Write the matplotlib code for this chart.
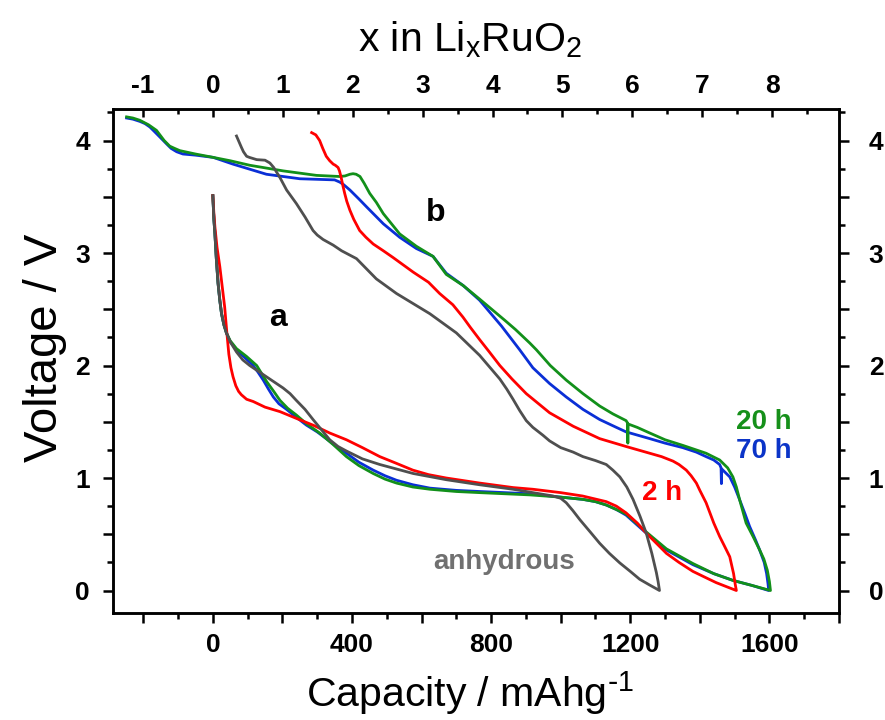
import matplotlib
matplotlib.use("Agg")
import matplotlib.pyplot as plt
from matplotlib.ticker import MultipleLocator, FuncFormatter

plt.rcParams['font.family'] = ['Liberation Sans', 'DejaVu Sans']
plt.rcParams['mathtext.default'] = 'regular'

# ---- 2 h sample -------------------------------------------------------
cap_2h_dis = [0, 3, 6, 12, 20, 27, 34, 40, 46, 52, 58, 66, 74, 82, 97, 116, 150,
              193, 240, 288, 336, 384, 430, 480, 528, 575, 620, 671, 767, 863, 920,
              1000, 1063, 1131, 1160, 1188, 1220, 1246, 1275, 1304, 1340, 1380, 1420,
              1447, 1480, 1505]
v_2h_dis = [3.51, 3.35, 3.23, 3.05, 2.88, 2.70, 2.52, 2.30, 2.10, 1.98, 1.90, 1.82,
            1.77, 1.74, 1.70, 1.68, 1.63, 1.59, 1.53, 1.47, 1.40, 1.34, 1.27, 1.19,
            1.13, 1.07, 1.03, 1.00, 0.955, 0.915, 0.90, 0.87, 0.84, 0.79, 0.75, 0.69,
            0.60, 0.51, 0.42, 0.33, 0.25, 0.17, 0.11, 0.07, 0.03, 0.00]
cap_2h_chg = [1505, 1502, 1497, 1486, 1470, 1457, 1440, 1418, 1400, 1390, 1375, 1361,
              1340, 1323, 1290, 1256, 1188, 1112, 1036, 968, 901, 860, 825, 795, 767,
              740, 719, 690, 652, 620, 576, 518, 490, 461, 440, 422, 405, 394, 385,
              379, 373, 369, 364, 360, 352, 346, 336, 326, 316, 307, 296, 284]
v_2h_chg = [0.00, 0.05, 0.15, 0.30, 0.40, 0.48, 0.60, 0.78, 0.89, 0.955, 1.02, 1.07,
            1.12, 1.15, 1.19, 1.22, 1.28, 1.35, 1.46, 1.58, 1.75, 1.88, 2.00, 2.12,
            2.23, 2.34, 2.43, 2.54, 2.64, 2.74, 2.83, 2.96, 3.02, 3.08, 3.14, 3.20,
            3.30, 3.38, 3.46, 3.53, 3.61, 3.67, 3.73, 3.76, 3.78, 3.79, 3.82, 3.86,
            3.93, 4.00, 4.05, 4.07]

# ---- anhydrous sample -------------------------------------------------
cap_an_dis = [0, 3, 6, 10, 15, 20, 25, 32, 39, 50, 68, 86, 106, 130, 154, 178, 202,
              222, 240, 265, 288, 312, 336, 360, 384, 430, 480, 576, 671, 767, 863,
              920, 978, 1000, 1016, 1035, 1055, 1085, 1112, 1140, 1170, 1200, 1227,
              1255, 1284]
v_an_dis = [3.51, 3.30, 3.17, 2.95, 2.73, 2.58, 2.46, 2.36, 2.29, 2.21, 2.12, 2.05,
            2.00, 1.95, 1.90, 1.85, 1.80, 1.75, 1.69, 1.61, 1.52, 1.43, 1.34, 1.28,
            1.24, 1.17, 1.12, 1.04, 0.985, 0.94, 0.90, 0.87, 0.84, 0.82, 0.78, 0.71,
            0.63, 0.52, 0.42, 0.33, 0.245, 0.17, 0.10, 0.05, 0.00]
cap_an_chg = [1284, 1280, 1275, 1262, 1246, 1228, 1208, 1190, 1170, 1150, 1131, 1100,
              1064, 1036, 1000, 968, 949, 920, 901, 882, 863, 845, 825, 767, 700, 624,
              528, 470, 413, 370, 346, 317, 300, 288, 265, 240, 212, 193, 175, 164,
              150, 126, 105, 97, 88, 82, 68]
v_an_chg = [0.00, 0.08, 0.16, 0.33, 0.51, 0.66, 0.81, 0.92, 1.01, 1.07, 1.12, 1.155,
            1.19, 1.23, 1.27, 1.33, 1.38, 1.45, 1.51, 1.60, 1.70, 1.79, 1.88, 2.09,
            2.29, 2.46, 2.64, 2.77, 2.95, 3.02, 3.07, 3.12, 3.16, 3.20, 3.32, 3.44,
            3.56, 3.67, 3.76, 3.80, 3.825, 3.83, 3.85, 3.86, 3.90, 3.94, 4.04]

# ---- 70 h sample ------------------------------------------------------
cap_70h_dis = [0, 3, 6, 10, 15, 20, 25, 32, 39, 50, 68, 92, 116, 130, 145, 160, 174,
               190, 212, 240, 269, 300, 326, 355, 384, 420, 461, 495, 528, 575, 624,
               700, 767, 911, 1000, 1064, 1100, 1131, 1160, 1188, 1246, 1304, 1380,
               1440, 1495, 1550, 1598]
v_70h_dis = [3.51, 3.30, 3.17, 2.95, 2.73, 2.58, 2.46, 2.36, 2.29, 2.21, 2.14, 2.07,
             2.00, 1.94, 1.87, 1.79, 1.72, 1.66, 1.61, 1.54, 1.47, 1.41, 1.35, 1.28,
             1.22, 1.14, 1.07, 1.02, 0.98, 0.94, 0.91, 0.89, 0.88, 0.86, 0.83, 0.81,
             0.79, 0.76, 0.72, 0.67, 0.51, 0.36, 0.23, 0.15, 0.09, 0.045, 0.00]
cap_70h_chg = [1598, 1596, 1592, 1585, 1572, 1560, 1543, 1530, 1514, 1500, 1486,
               1463, 1462, 1461, 1457, 1440, 1418, 1390, 1351, 1300, 1256, 1188, 1160,
               1112, 1064, 1016, 968, 920, 882, 830, 767, 720, 671, 633, 585, 537, 490,
               442, 420, 394, 375, 365, 350, 300, 250, 154, 58, 1, -50, -86, -104,
               -120, -133, -152, -168, -181, -195, -210, -230, -248]
v_70h_chg = [0.00, 0.06, 0.15, 0.25, 0.36, 0.45, 0.57, 0.68, 0.81, 0.92, 1.01, 1.08,
             0.95, 1.09, 1.12, 1.16, 1.19, 1.23, 1.27, 1.31, 1.35, 1.41, 1.45, 1.52,
             1.61, 1.72, 1.84, 1.98, 2.14, 2.35, 2.58, 2.71, 2.82, 2.97, 3.04, 3.14,
             3.26, 3.41, 3.48, 3.56, 3.61, 3.63, 3.65, 3.655, 3.66, 3.70, 3.79, 3.85,
             3.87, 3.88, 3.90, 3.93, 3.97, 4.03, 4.08, 4.12, 4.15, 4.17, 4.19, 4.20]

# ---- 20 h sample ------------------------------------------------------
cap_20h_dis = [0, 3, 6, 10, 15, 20, 25, 32, 39, 50, 68, 97, 126, 140, 154, 175, 193,
               215, 240, 270, 307, 345, 384, 420, 461, 495, 528, 575, 624, 700, 767,
               911, 1000, 1064, 1100, 1131, 1160, 1188, 1246, 1304, 1380, 1440, 1495,
               1550, 1603]
v_20h_dis = [3.51, 3.30, 3.17, 2.95, 2.73, 2.58, 2.46, 2.36, 2.29, 2.22, 2.15, 2.08,
             2.00, 1.93, 1.86, 1.77, 1.69, 1.62, 1.56, 1.48, 1.40, 1.30, 1.19, 1.11,
             1.04, 0.99, 0.955, 0.92, 0.90, 0.88, 0.87, 0.85, 0.83, 0.81, 0.79, 0.76,
             0.72, 0.68, 0.52, 0.37, 0.24, 0.15, 0.09, 0.045, 0.00]
cap_20h_chg = [1603, 1600, 1594, 1584, 1572, 1553, 1533, 1515, 1505, 1495, 1480,
               1457, 1418, 1351, 1300, 1256, 1220, 1194, 1193, 1192, 1188, 1150, 1112,
               1064, 1016, 970, 930, 911, 870, 840, 767, 720, 671, 633, 585, 537, 490,
               470, 451, 435, 423, 412, 403, 394, 380, 365, 298, 202, 106, 50, 1, -50,
               -95, -110, -124, -140, -162, -185, -210, -230, -248]
v_20h_chg = [0.00, 0.08, 0.18, 0.28, 0.36, 0.48, 0.60, 0.80, 0.92, 1.01, 1.09, 1.16,
             1.22, 1.29, 1.34, 1.40, 1.45, 1.48, 1.31, 1.49, 1.51, 1.57, 1.64, 1.75,
             1.87, 2.00, 2.14, 2.20, 2.32, 2.40, 2.59, 2.71, 2.81, 2.97, 3.06, 3.17,
             3.35, 3.45, 3.53, 3.62, 3.68, 3.70, 3.705, 3.70, 3.685, 3.68, 3.69, 3.73,
             3.78, 3.82, 3.85, 3.88, 3.91, 3.93, 3.95, 4.00, 4.09, 4.14, 4.18, 4.20,
             4.21]

MAH_PER_LI = 201.0  # mAh/g per Li in RuO2
Y_LIM = (-0.2, 4.28)

fig = plt.figure(figsize=(8.85, 7.2), dpi=100)
ax = fig.add_axes([0.1277, 0.1486, 0.8203, 0.7000])

curves = [
    (cap_70h_dis + cap_70h_chg, v_70h_dis + v_70h_chg, '#0a2fd6'),
    (cap_20h_dis + cap_20h_chg, v_20h_dis + v_20h_chg, '#12901a'),
    (cap_2h_dis + cap_2h_chg, v_2h_dis + v_2h_chg, '#ff0000'),
    (cap_an_dis + cap_an_chg, v_an_dis + v_an_chg, '#4f4f4f'),
]
for cap, volt, col in curves:
    ax.plot(cap, volt, color=col, lw=2.0, solid_joinstyle='round')

ax.set_xlim(-287, 1800)
ax.set_ylim(*Y_LIM)

int_fmt = FuncFormatter(
    lambda v, p: f"{int(round(v))}" if abs(v - round(v)) < 1e-6 else "")

# bottom axis
ax.xaxis.set_major_locator(MultipleLocator(200))
ax.xaxis.set_minor_locator(MultipleLocator(100))
ax.xaxis.set_major_formatter(FuncFormatter(
    lambda v, p: f"{int(round(v))}" if round(v) % 400 == 0 else ""))
# left axis
ax.yaxis.set_major_locator(MultipleLocator(0.5))
ax.yaxis.set_minor_locator(MultipleLocator(0.25))
ax.yaxis.set_major_formatter(int_fmt)

for s in ax.spines.values():
    s.set_linewidth(1.8)

ax.tick_params(axis='x', which='both', direction='out', top=False, width=1.8,
               labelsize=19, pad=7)
ax.tick_params(axis='x', which='major', length=7.5)
ax.tick_params(axis='x', which='minor', length=4)
ax.tick_params(axis='y', which='both', direction='out', left=True, right=False,
               width=1.8, labelsize=19, pad=9)
ax.tick_params(axis='y', which='major', length=7.5)
ax.tick_params(axis='y', which='minor', length=4)
for lab in ax.get_xticklabels() + ax.get_yticklabels():
    lab.set_fontweight('bold')

# right axis repeats the voltage scale
axr = ax.twinx()
axr.set_ylim(*Y_LIM)
axr.yaxis.set_major_locator(MultipleLocator(0.5))
axr.yaxis.set_minor_locator(MultipleLocator(0.25))
axr.yaxis.set_major_formatter(int_fmt)
axr.tick_params(axis='y', which='both', direction='out', width=1.8, labelsize=19,
                pad=14)
axr.tick_params(axis='y', which='major', length=7.5)
axr.tick_params(axis='y', which='minor', length=4)
for lab in axr.get_yticklabels():
    lab.set_fontweight('bold')
for s in axr.spines.values():
    s.set_linewidth(1.8)

# top axis: lithium content
top = ax.secondary_xaxis('top', functions=(lambda c: c / MAH_PER_LI,
                                           lambda x: x * MAH_PER_LI))
top.xaxis.set_major_locator(MultipleLocator(1))
top.xaxis.set_minor_locator(MultipleLocator(0.5))
top.xaxis.set_major_formatter(FuncFormatter(lambda v, p: f"{int(round(v))}"))
top.tick_params(axis='x', which='both', direction='in', width=1.8, labelsize=19, pad=8)
top.tick_params(axis='x', which='major', length=6)
top.tick_params(axis='x', which='minor', length=3.5)
for lab in top.get_xticklabels():
    lab.set_fontweight('bold')
top.set_xlabel('x in Li$_x$RuO$_2$', fontsize=29.5, labelpad=16)
top.xaxis.label.set_x(0.4917)

ax.set_xlabel(r'Capacity / mAhg$^{\text{-}1}$', fontsize=29.5, labelpad=9)
ax.xaxis.label.set_x(0.492)
ax.set_ylabel('Voltage / V', fontsize=34, labelpad=6)
ax.yaxis.label.set_y(0.526)

# annotations
ax.text(187, 2.42, 'a', fontsize=23, fontweight='bold', ha='center', va='center')
ax.text(641, 3.36, 'b', fontsize=23, fontweight='bold', ha='center', va='center')
ax.text(1583, 1.50, '20 h', fontsize=20, fontweight='bold', color='#16901a',
        ha='center', va='center')
ax.text(1583, 1.24, '70 h', fontsize=20, fontweight='bold', color='#0b34c8',
        ha='center', va='center')
ax.text(1290, 0.87, '2 h', fontsize=20, fontweight='bold', color='#ff0000',
        ha='center', va='center')
ax.text(836, 0.25, 'anhydrous', fontsize=20, fontweight='bold', color='#707070',
        ha='center', va='center')

fig.savefig('out.png', dpi=100)
